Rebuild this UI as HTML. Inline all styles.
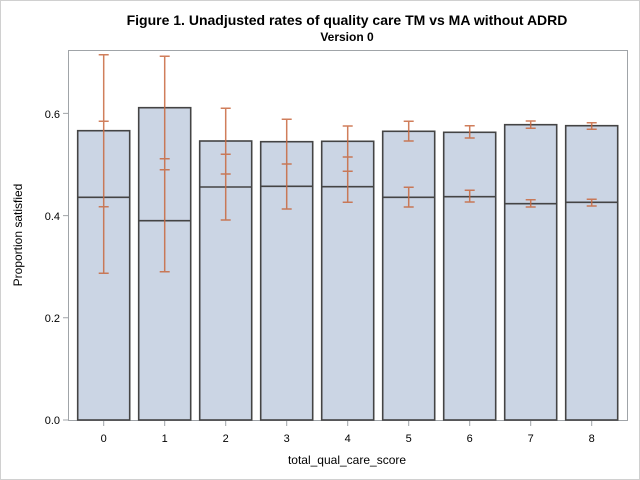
<!DOCTYPE html>
<html><head><style>body{margin:0;background:#fff}svg{display:block}</style></head><body>
<svg width="640" height="480" xmlns="http://www.w3.org/2000/svg" font-family="Liberation Sans, Arial, sans-serif">
<rect x="0.5" y="0.5" width="639" height="479" fill="#fff" stroke="#d0d0d0"/>
<text x="347" y="25" text-anchor="middle" font-size="14" font-weight="bold">Figure 1. Unadjusted rates of quality care TM vs MA without ADRD</text>
<text x="347" y="41" text-anchor="middle" font-size="12" font-weight="bold">Version 0</text>
<rect x="68.5" y="50.5" width="559" height="370" fill="#fff" stroke="#a0a4a8"/>
<g fill="#cbd5e4" stroke="#444" stroke-width="1.6">
<rect x="77.7" y="130.7" width="52" height="289.3"/><line x1="77.7" x2="129.7" y1="197.3" y2="197.3"/>
<rect x="138.7" y="107.7" width="52" height="312.3"/><line x1="138.7" x2="190.7" y1="220.7" y2="220.7"/>
<rect x="199.7" y="141" width="52" height="279"/><line x1="199.7" x2="251.7" y1="187" y2="187"/>
<rect x="260.7" y="141.7" width="52" height="278.3"/><line x1="260.7" x2="312.7" y1="186.3" y2="186.3"/>
<rect x="321.7" y="141.3" width="52" height="278.7"/><line x1="321.7" x2="373.7" y1="186.7" y2="186.7"/>
<rect x="382.7" y="131.3" width="52" height="288.7"/><line x1="382.7" x2="434.7" y1="197.3" y2="197.3"/>
<rect x="443.7" y="132.3" width="52" height="287.7"/><line x1="443.7" x2="495.7" y1="196.7" y2="196.7"/>
<rect x="504.7" y="124.7" width="52" height="295.3"/><line x1="504.7" x2="556.7" y1="203.7" y2="203.7"/>
<rect x="565.7" y="125.7" width="52" height="294.3"/><line x1="565.7" x2="617.7" y1="202.3" y2="202.3"/>
</g>
<g stroke="#c8683f" stroke-width="1.5" fill="none" opacity="0.85">
<path d="M103.7 54.7V273.3M98.7 54.7h10M98.7 121.3h10M98.7 206.7h10M98.7 273.3h10"/>
<path d="M164.7 56.3V271.7M159.7 56.3h10M159.7 158.7h10M159.7 169.7h10M159.7 271.7h10"/>
<path d="M225.7 108.3V220M220.7 108.3h10M220.7 154.3h10M220.7 174h10M220.7 220h10"/>
<path d="M286.7 119.3V209M281.7 119.3h10M281.7 164h10M281.7 209h10"/>
<path d="M347.7 126V202.3M342.7 126h10M342.7 157h10M342.7 171.3h10M342.7 202.3h10"/>
<path d="M408.7 121.3V141M403.7 121.3h10M403.7 141h10M408.7 187.3V207M403.7 187.3h10M403.7 207h10"/>
<path d="M469.7 125.7V138M464.7 125.7h10M464.7 138h10M469.7 190.3V202M464.7 190.3h10M464.7 202h10"/>
<path d="M530.7 121V128.3M525.7 121h10M525.7 128.3h10M530.7 199.7V207M525.7 199.7h10M525.7 207h10"/>
<path d="M591.7 122.7V129.3M586.7 122.7h10M586.7 129.3h10M591.7 199.3V206M586.7 199.3h10M586.7 206h10"/>
</g>
<g stroke="#a0a4a8"><path d="M63 420h5M63 317.8h5M63 215.6h5M63 113.4h5"/>
<path d="M103.7 421v5M164.7 421v5M225.7 421v5M286.7 421v5M347.7 421v5M408.7 421v5M469.7 421v5M530.7 421v5M591.7 421v5"/></g>
<g font-size="11" text-anchor="end"><text x="60" y="424">0.0</text><text x="60" y="322">0.2</text><text x="60" y="220">0.4</text><text x="60" y="118">0.6</text></g>
<g font-size="11" text-anchor="middle"><text x="103.7" y="442">0</text><text x="164.7" y="442">1</text><text x="225.7" y="442">2</text><text x="286.7" y="442">3</text><text x="347.7" y="442">4</text><text x="408.7" y="442">5</text><text x="469.7" y="442">6</text><text x="530.7" y="442">7</text><text x="591.7" y="442">8</text>
<text x="347" y="464" font-size="12">total_qual_care_score</text>
<text transform="translate(22,235) rotate(-90)" font-size="12">Proportion satisfied</text></g>
</svg>
</body></html>
